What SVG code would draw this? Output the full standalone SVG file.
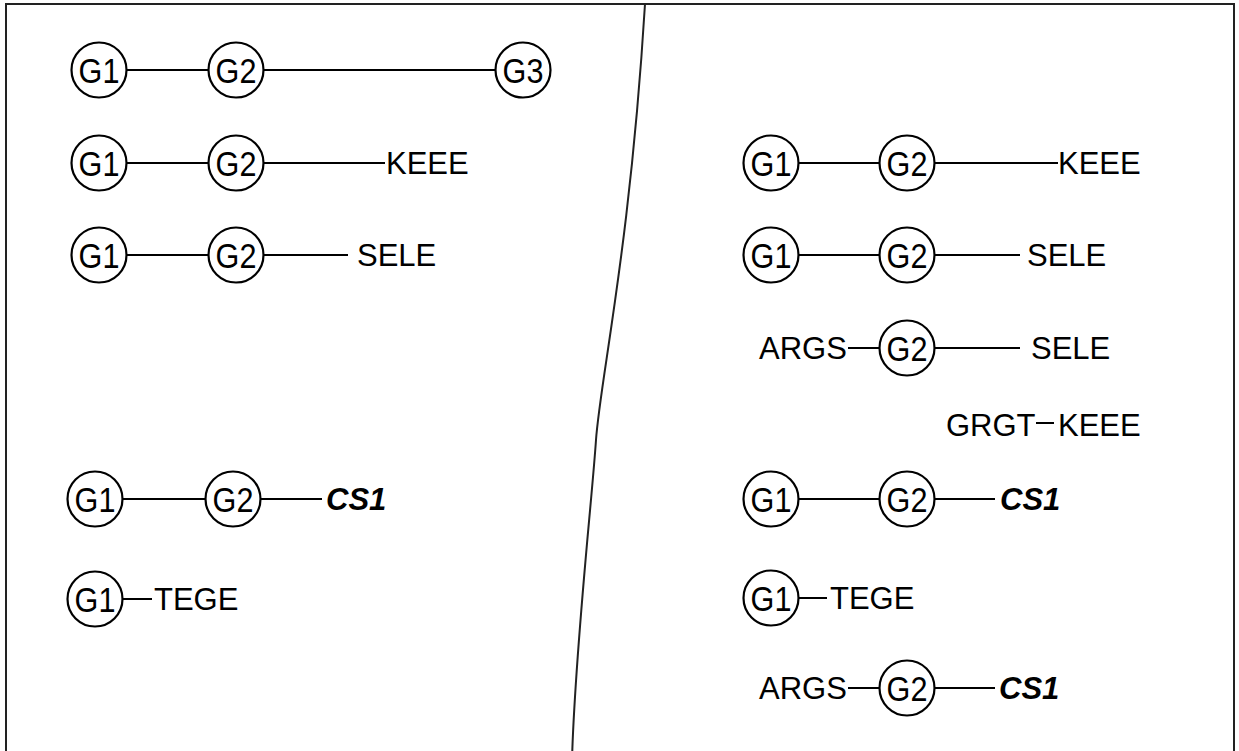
<svg xmlns="http://www.w3.org/2000/svg" width="1239" height="751" viewBox="0 0 1239 751">
<style>
.frame{fill:none;stroke:#222;stroke-width:2}
.c{fill:#fff;stroke:#000;stroke-width:2.2}
.t{font-family:"Liberation Sans",Arial,sans-serif;font-size:31px;fill:#000}
.g{font-family:"Liberation Sans",Arial,sans-serif;font-size:36px;fill:#000;text-anchor:middle}
.b{font-weight:bold;font-style:italic}
.e{stroke:#000;stroke-width:2;fill:none}
</style>
<rect x="0" y="0" width="1239" height="751" fill="#fff"/>
<rect class="frame" x="6" y="4" width="1228" height="800"/>
<path class="frame" d="M645,4 C630,250 600,380 596,440 S575,650 572,760"/>
<g id="connectors">
<line class="e" x1="126.5" y1="70" x2="208.5" y2="70"/>
<line class="e" x1="263.5" y1="70" x2="495.5" y2="70"/>
<line class="e" x1="126.5" y1="163" x2="208.5" y2="163"/>
<line class="e" x1="263.5" y1="163" x2="385" y2="163"/>
<line class="e" x1="126.5" y1="255" x2="208.5" y2="255"/>
<line class="e" x1="263.5" y1="255" x2="348" y2="255"/>
<line class="e" x1="122.5" y1="499" x2="205.5" y2="499"/>
<line class="e" x1="260.5" y1="499" x2="322" y2="499"/>
<line class="e" x1="122.5" y1="599" x2="152" y2="599"/>
<line class="e" x1="798.5" y1="163" x2="879.5" y2="163"/>
<line class="e" x1="934.5" y1="163" x2="1058" y2="163"/>
<line class="e" x1="798.5" y1="255" x2="879.5" y2="255"/>
<line class="e" x1="934.5" y1="255" x2="1020" y2="255"/>
<line class="e" x1="848" y1="348" x2="879.5" y2="348"/>
<line class="e" x1="934.5" y1="348" x2="1020" y2="348"/>
<line class="e" x1="1036" y1="423" x2="1054" y2="423"/>
<line class="e" x1="798.5" y1="499" x2="879.5" y2="499"/>
<line class="e" x1="934.5" y1="499" x2="995" y2="499"/>
<line class="e" x1="798.5" y1="598" x2="827" y2="598"/>
<line class="e" x1="848" y1="688" x2="879.5" y2="688"/>
<line class="e" x1="934.5" y1="688" x2="995" y2="688"/>
</g>
<g id="L1-G1"><circle class="c" cx="99" cy="70" r="27.5"/><text class="g" transform="translate(99,83) scale(0.85,1)">G1</text></g>
<g id="L1-G2"><circle class="c" cx="236" cy="70" r="27.5"/><text class="g" transform="translate(236,83) scale(0.85,1)">G2</text></g>
<g id="L1-G3"><circle class="c" cx="523" cy="70" r="27.5"/><text class="g" transform="translate(523,83) scale(0.85,1)">G3</text></g>
<g id="L2-G1"><circle class="c" cx="99" cy="163" r="27.5"/><text class="g" transform="translate(99,176) scale(0.85,1)">G1</text></g>
<g id="L2-G2"><circle class="c" cx="236" cy="163" r="27.5"/><text class="g" transform="translate(236,176) scale(0.85,1)">G2</text></g>
<g id="L2-KEEE"><text class="t" x="386" y="174">KEEE</text></g>
<g id="L3-G1"><circle class="c" cx="99" cy="255" r="27.5"/><text class="g" transform="translate(99,268) scale(0.85,1)">G1</text></g>
<g id="L3-G2"><circle class="c" cx="236" cy="255" r="27.5"/><text class="g" transform="translate(236,268) scale(0.85,1)">G2</text></g>
<g id="L3-SELE"><text class="t" x="357" y="266">SELE</text></g>
<g id="L4-G1"><circle class="c" cx="95" cy="499" r="27.5"/><text class="g" transform="translate(95,512) scale(0.85,1)">G1</text></g>
<g id="L4-G2"><circle class="c" cx="233" cy="499" r="27.5"/><text class="g" transform="translate(233,512) scale(0.85,1)">G2</text></g>
<g id="L4-CS1"><text class="t b" x="326" y="510">CS1</text></g>
<g id="L5-G1"><circle class="c" cx="95" cy="599" r="27.5"/><text class="g" transform="translate(95,612) scale(0.85,1)">G1</text></g>
<g id="L5-TEGE"><text class="t" x="154" y="610">TEGE</text></g>
<g id="R1-G1"><circle class="c" cx="771" cy="163" r="27.5"/><text class="g" transform="translate(771,176) scale(0.85,1)">G1</text></g>
<g id="R1-G2"><circle class="c" cx="907" cy="163" r="27.5"/><text class="g" transform="translate(907,176) scale(0.85,1)">G2</text></g>
<g id="R1-KEEE"><text class="t" x="1058" y="174">KEEE</text></g>
<g id="R2-G1"><circle class="c" cx="771" cy="255" r="27.5"/><text class="g" transform="translate(771,268) scale(0.85,1)">G1</text></g>
<g id="R2-G2"><circle class="c" cx="907" cy="255" r="27.5"/><text class="g" transform="translate(907,268) scale(0.85,1)">G2</text></g>
<g id="R2-SELE"><text class="t" x="1027" y="266">SELE</text></g>
<g id="R3-ARGS"><text class="t" x="759" y="359">ARGS</text></g>
<g id="R3-G2"><circle class="c" cx="907" cy="348" r="27.5"/><text class="g" transform="translate(907,361) scale(0.85,1)">G2</text></g>
<g id="R3-SELE"><text class="t" x="1031" y="359">SELE</text></g>
<g id="R4-GRGT"><text class="t" x="946" y="436">GRGT</text></g>
<g id="R4-KEEE"><text class="t" x="1058" y="436">KEEE</text></g>
<g id="R5-G1"><circle class="c" cx="771" cy="499" r="27.5"/><text class="g" transform="translate(771,512) scale(0.85,1)">G1</text></g>
<g id="R5-G2"><circle class="c" cx="907" cy="499" r="27.5"/><text class="g" transform="translate(907,512) scale(0.85,1)">G2</text></g>
<g id="R5-CS1"><text class="t b" x="1000" y="510">CS1</text></g>
<g id="R6-G1"><circle class="c" cx="771" cy="598" r="27.5"/><text class="g" transform="translate(771,611) scale(0.85,1)">G1</text></g>
<g id="R6-TEGE"><text class="t" x="830" y="609">TEGE</text></g>
<g id="R7-ARGS"><text class="t" x="759" y="699">ARGS</text></g>
<g id="R7-G2"><circle class="c" cx="907" cy="688" r="27.5"/><text class="g" transform="translate(907,701) scale(0.85,1)">G2</text></g>
<g id="R7-CS1"><text class="t b" x="999" y="699">CS1</text></g>
</svg>
